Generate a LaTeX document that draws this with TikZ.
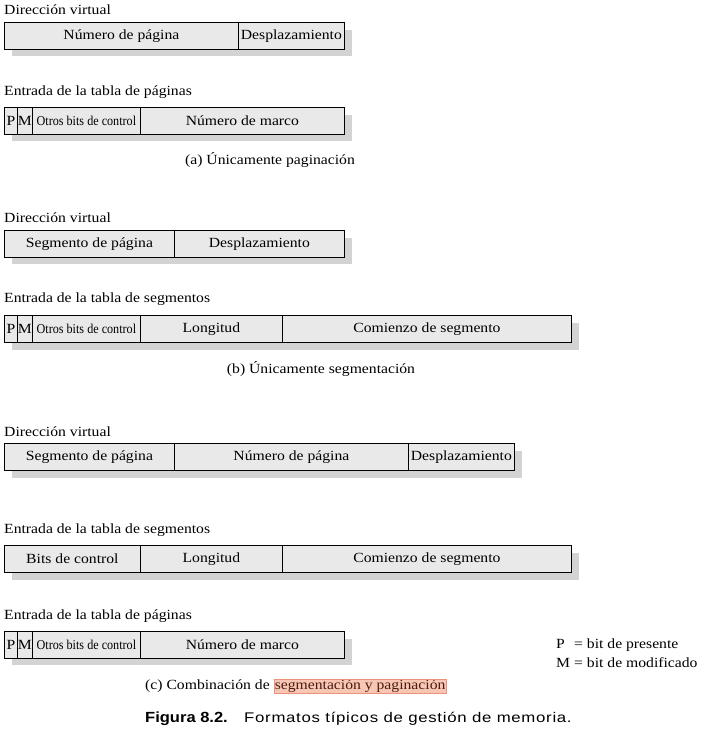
\documentclass[tikz,border=0pt]{standalone}
\usepackage{fontspec}
\usepackage{graphicx}
\setmainfont{Liberation Serif}[FakeStretch=1.12]
\newfontfamily\condserif{Liberation Serif}[FakeStretch=0.9]
\newfontfamily\capsans{Liberation Sans}[FakeStretch=1.2,LetterSpace=5]
\newfontfamily\capsansbold{Liberation Sans}
\definecolor{boxfill}{RGB}{233,233,233}
\definecolor{shadowgray}{RGB}{211,211,211}
\definecolor{hlf}{RGB}{250,198,180}
\definecolor{hlb}{RGB}{238,145,122}
\definecolor{hltext}{RGB}{70,30,20}
\tikzset{
  field/.style={draw=black, line width=0.8pt, fill=boxfill, rectangle, inner sep=0pt,
    minimum height=26.5pt, anchor=north west, font=\fontsize{14}{16}\selectfont},
  cfield/.style={field, font=\condserif\fontsize{13.5}{16}\selectfont},
  shd/.style={fill=shadowgray},
  lbl/.style={anchor=west, inner sep=0pt, font=\fontsize{14}{16}\selectfont},
  captxt/.style={inner sep=0pt, font=\fontsize{14}{16}\selectfont},
}
\begin{document}
\begin{tikzpicture}[x=1pt,y=-1pt]
\useasboundingbox (0,0) rectangle (709,736);
% ---------- (a)
\node[lbl] (l1) at (4,10) {Dirección virtual};
\fill[shd] (12,30) rectangle (352,56);
\node[field, minimum width=234pt] (a1) at (4,22) {Número de página};
\node[field, minimum width=106pt] (a2) at (238,22) {Desplazamiento};

\node[lbl] (l2) at (4,92) {Entrada de la tabla de páginas};
\fill[shd] (12,115) rectangle (352,141);
\node[field, minimum width=13pt] (a3) at (4,107) {P};
\node[field, minimum width=15pt] (a4) at (17,107) {M};
\node[cfield, minimum width=108pt] (a5) at (32,107) {Otros bits de control};
\node[field, minimum width=204pt] (a6) at (140,107) {Número de marco};
\node[captxt] (capa) at (270,160) {(a) Únicamente paginación};

% ---------- (b)
\node[lbl] (l3) at (4,218) {Dirección virtual};
\fill[shd] (12,238) rectangle (352,264);
\node[field, minimum width=170pt] (b1) at (4,230) {Segmento de página};
\node[field, minimum width=170pt] (b2) at (174,230) {Desplazamiento};

\node[lbl] (l4) at (4,299) {Entrada de la tabla de segmentos};
\fill[shd] (12,323) rectangle (579,350);
\node[field, minimum width=13pt] (b3) at (4,315) {P};
\node[field, minimum width=15pt] (b4) at (17,315) {M};
\node[cfield, minimum width=108pt] (b5) at (32,315) {Otros bits de control};
\node[field, minimum width=142pt] (b6) at (140,315) {Longitud};
\node[field, minimum width=289pt] (b7) at (282,315) {Comienzo de segmento};
\node[captxt] (capb) at (321,369) {(b) Únicamente segmentación};

% ---------- (c)
\node[lbl] (l5) at (4,432) {Dirección virtual};
\fill[shd] (12,451) rectangle (522,478);
\node[field, minimum width=170pt] (c1) at (4,443) {Segmento de página};
\node[field, minimum width=234pt] (c2) at (174,443) {Número de página};
\node[field, minimum width=106pt] (c3) at (408,443) {Desplazamiento};

\node[lbl] (l6) at (4,530) {Entrada de la tabla de segmentos};
\fill[shd] (12,553) rectangle (579,580);
\node[field, minimum width=136pt] (c4) at (4,545) {Bits de control};
\node[field, minimum width=142pt] (c5) at (140,545) {Longitud};
\node[field, minimum width=289pt] (c6) at (282,545) {Comienzo de segmento};

\node[lbl] (l7) at (4,616) {Entrada de la tabla de páginas};
\fill[shd] (12,639) rectangle (352,665);
\node[field, minimum width=13pt] (c7) at (4,631) {P};
\node[field, minimum width=15pt] (c8) at (17,631) {M};
\node[cfield, minimum width=108pt] (c9) at (32,631) {Otros bits de control};
\node[field, minimum width=204pt] (c10) at (140,631) {Número de marco};

\node[lbl] (legP) at (556,645) {\makebox[18pt][l]{P}= bit de presente};
\node[lbl] (legM) at (556,663) {\makebox[18pt][l]{M}= bit de modificado};

\node[lbl] (capc) at (145,686) {(c) Combinación de \setlength\fboxsep{0.5pt}\setlength\fboxrule{0.6pt}\fcolorbox{hlb}{hlf}{\color{hltext}\vphantom{Sp}segmentación y paginación}};

\node[lbl] (fig) at (145,719) {\scalebox{1.18}[1.05]{\capsansbold\bfseries Figura 8.2.}};
\node[lbl] (figtext) at (244,719) {\capsans Formatos típicos de gestión de memoria.};
\end{tikzpicture}
\end{document}
